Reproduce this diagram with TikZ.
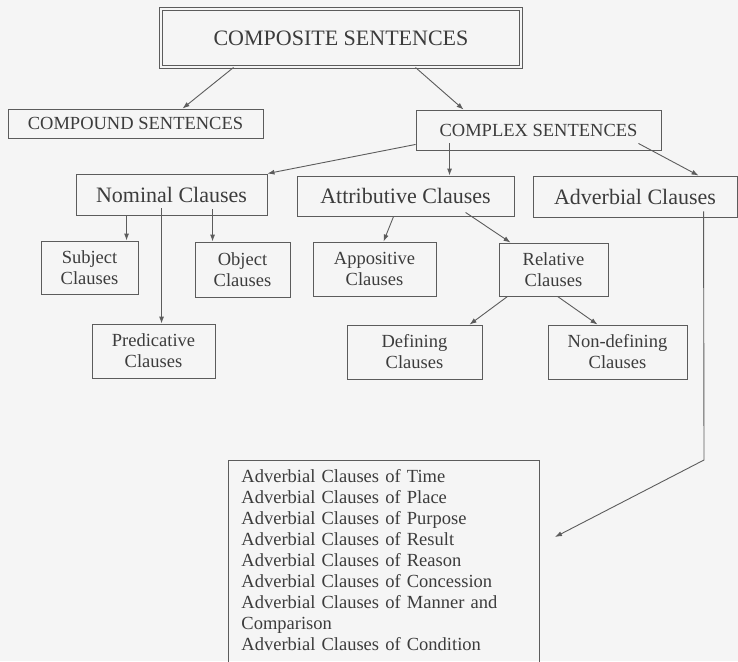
\documentclass[tikz,border=0pt]{standalone}
\usepackage{fontspec}
\setmainfont{Liberation Serif}
\usetikzlibrary{arrows.meta,calc}
\definecolor{bg}{HTML}{F5F5F5}
\definecolor{ln}{HTML}{5C5C5C}
\definecolor{tx}{HTML}{3C3C3C}
\begin{document}
\begin{tikzpicture}[x=1pt,y=-1pt,
  box/.style={draw=ln, line width=0.9pt, text=tx, inner sep=0pt, align=center},
  big/.style={font=\fontsize{22}{24}\selectfont},
  small/.style={font=\fontsize{18.5}{21}\selectfont},
  arr/.style={draw=ln, line width=0.9pt, -{Latex[length=7pt,width=5pt]}}]
\fill[bg] (0,0) rectangle (738,661);
\useasboundingbox (0,0) rectangle (738,661);
\clip (0,0) rectangle (738,661);

\node[box, big, minimum width=360pt, minimum height=58pt, double=bg, double distance=2pt, line width=1pt] (top) at (341,38) {COMPOSITE SENTENCES};
\node[box, small, minimum width=255pt, minimum height=29pt] (compound) at (135.5,123.5) {COMPOUND SENTENCES};
\node[box, small, minimum width=245pt, minimum height=40pt] (complex) at (538.5,130) {COMPLEX SENTENCES};

\node[box, big, minimum width=191pt, minimum height=41pt] (nominal) at (171.5,194.5) {Nominal Clauses};
\node[box, big, minimum width=217pt, minimum height=40pt] (attributive) at (405.5,196) {Attributive Clauses};
\node[box, big, minimum width=204pt, minimum height=41pt] (adverbial) at (635,196.5) {Adverbial Clauses};

\node[box, small, minimum width=97pt, minimum height=53pt] (subject) at (89.5,267.5) {Subject\\Clauses};
\node[box, small, minimum width=95pt, minimum height=55pt] (object) at (242.5,269.5) {Object\\Clauses};
\node[box, small, minimum width=123pt, minimum height=54pt] (appositive) at (374.5,269) {Appositive\\Clauses};
\node[box, small, minimum width=109pt, minimum height=53pt] (relative) at (553.5,269.5) {Relative\\Clauses};
\node[box, small, minimum width=123pt, minimum height=54pt] (predicative) at (153.5,351) {Predicative\\Clauses};
\node[box, small, minimum width=135pt, minimum height=54pt] (defining) at (414.5,352) {Defining\\Clauses};
\node[box, small, minimum width=139pt, minimum height=54pt] (nondefining) at (617.5,352) {Non-defining\\Clauses};

\node[box, small, anchor=north west, align=left, inner xsep=13pt, inner ysep=9pt, text width=285pt] (list) at (228,460) {Adverbial Clauses of Time\\
Adverbial Clauses of Place\\
Adverbial Clauses of Purpose\\
Adverbial Clauses of Result\\
Adverbial Clauses of Reason\\
Adverbial Clauses of Concession\\
Adverbial Clauses of Manner and\\
Comparison\\
Adverbial Clauses of Condition\rule[-14pt]{0pt}{0pt}};

\draw[arr] ([xshift=73pt]top.south west) -- ([xshift=175pt]compound.north west);
\draw[arr] ([xshift=255pt]top.south west) -- ([xshift=48pt]complex.north west);
\draw[arr] ([yshift=6pt]complex.south west) -- (nominal.north east);
\draw[arr] ([xshift=34pt,yshift=7pt]complex.south west) -- ([xshift=153pt]attributive.north west);
\draw[arr] ([xshift=-23pt,yshift=7pt]complex.south east) -- ([xshift=166pt]adverbial.north west);
\draw[arr] ([xshift=51pt]nominal.south west) -- ([xshift=86pt]subject.north west);
\draw[arr] ([xshift=86pt,yshift=7pt]nominal.south west) -- ([xshift=70pt]predicative.north west);
\draw[arr] ([xshift=137pt,yshift=6pt]nominal.south west) -- ([xshift=18pt]object.north west);
\draw[arr] ([xshift=97pt]attributive.south west) -- ([xshift=71pt]appositive.north west);
\draw[arr] ([xshift=169pt,yshift=4pt]attributive.south west) -- ([xshift=12pt]relative.north west);
\draw[arr] ([xshift=9pt]relative.south west) -- ([xshift=123pt]defining.north west);
\draw[arr] ([xshift=59pt]relative.south west) -- ([xshift=50pt]nondefining.north west);
\coordinate (kink) at (704,460);
\coordinate (tip) at (555,537);
\draw[arr] ([xshift=171pt,yshift=6pt]adverbial.south west) -- (kink) -- (tip);
\end{tikzpicture}
\end{document}
